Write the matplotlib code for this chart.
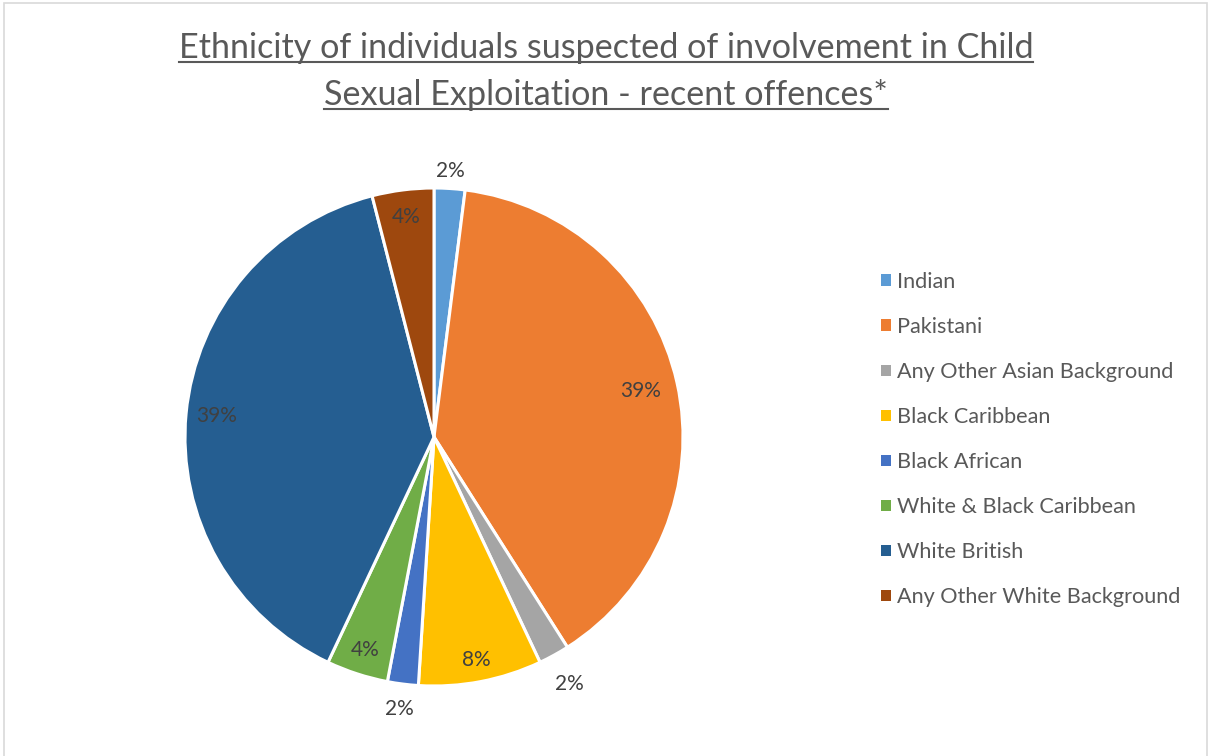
import matplotlib.pyplot as plt
from matplotlib.patches import Rectangle
import numpy as np

# data
groups = ["Indian", "Pakistani", "Any Other Asian Background", "Black Caribbean",
          "Black African", "White & Black Caribbean", "White British",
          "Any Other White Background"]
shares = [2, 39, 2, 8, 2, 4, 39, 4]
colors = ["#5B9BD5", "#ED7D31", "#A5A5A5", "#FFC000",
          "#4472C4", "#70AD47", "#255E91", "#9E480E"]
# radial distance of each percentage label (fraction of radius)
label_dist = [1.07, 0.85, 1.13, 0.91, 1.10, 0.90, 0.875, 0.89]

plt.rcParams['font.family'] = ['Lato', 'DejaVu Sans']

W, H = 1208, 756
fig = plt.figure(figsize=(W / 100, H / 100), dpi=100)

# light grey chart border
fig.patches.append(Rectangle((4 / W, -0.01), (1207 - 4) / W, (H - 3) / H + 0.01,
                             transform=fig.transFigure, fill=False,
                             edgecolor="#D9D9D9", linewidth=1.2))

# pie axes: centre (434, 437) px, radius 249 px
cx, cy, r = 434, 437, 249
ax = fig.add_axes([(cx - r) / W, (H - cy - r) / H, 2 * r / W, 2 * r / H])
wedges, _ = ax.pie(shares, colors=colors, startangle=90, counterclock=False,
                   radius=1, wedgeprops=dict(edgecolor="white", linewidth=2.2))
ax.set_xlim(-1, 1)
ax.set_ylim(-1, 1)
ax.set_aspect("equal")
ax.axis("off")

for w, val, d in zip(wedges, shares, label_dist):
    mid = np.deg2rad((w.theta1 + w.theta2) / 2)
    ax.text(d * np.cos(mid), d * np.sin(mid), f"{val}%", ha="center", va="center",
            fontsize=15, color="#404040", clip_on=False)

# title with underline
title_lines = ["Ethnicity of individuals suspected of involvement in Child",
               "Sexual Exploitation - recent offences*"]
title_y = [48, 95]
fig.canvas.draw()
renderer = fig.canvas.get_renderer()
for line, y in zip(title_lines, title_y):
    t = fig.text(606 / W, 1 - y / H, line, ha="center", va="center",
                 fontsize=24.6, color="#595959")
    bb = t.get_window_extent(renderer)
    uy = bb.y0 + 2
    fig.add_artist(plt.Line2D([bb.x0 / W, bb.x1 / W], [uy / H, uy / H],
                              transform=fig.transFigure, color="#595959", linewidth=1.5))

# legend
handles = [Rectangle((0, 0), 1, 1, facecolor=c, edgecolor="none") for c in colors]
leg = fig.legend(handles, groups, loc="upper left",
                 bbox_to_anchor=(881 / W, 1 - 272 / H), frameon=False,
                 fontsize=15.6, labelcolor="#595959", handlelength=0.45,
                 handleheight=0.45, handletextpad=0.3, labelspacing=1.155,
                 borderaxespad=0, borderpad=0)

fig.savefig("out.png", dpi=100, facecolor="white")
